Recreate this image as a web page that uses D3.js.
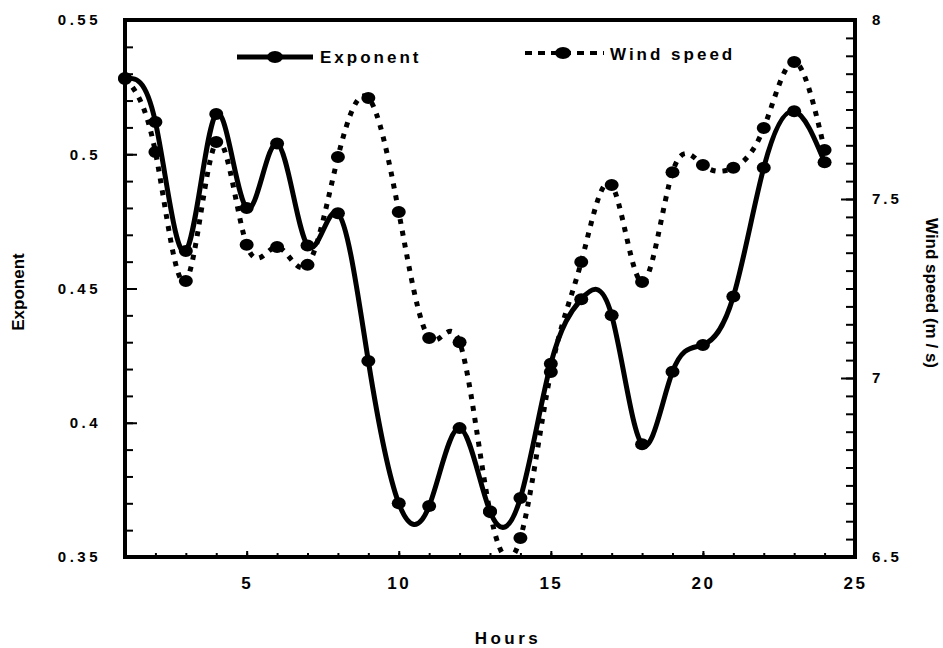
<!DOCTYPE html>
<html lang="en">
<head>
    <meta charset="UTF-8">
    <title>Exponent and wind speed</title>
    <script src="https://d3js.org/d3.v7.min.js"></script>
    <style>
        body {
        margin:0;
        background:#fff;
        }

        svg {
        position:absolute;
        top:0px;
        left:0px;
        }

        text {
        font-family:"Liberation Sans", Arial, sans-serif;
        font-weight:bold;
        fill:#000;
        }
    </style>
</head>
<body>
<svg width="943" height="648"></svg>
<script>
    // values
    var hours = [1, 2, 3, 4, 5, 6, 7, 8, 9, 10, 11, 12, 13, 14, 15, 16, 17, 18, 19, 20, 21, 22, 23, 24];
    var exponent = [0.528, 0.512, 0.464, 0.515, 0.480, 0.504, 0.466, 0.478, 0.423, 0.370, 0.369, 0.398,
                    0.367, 0.372, 0.422, 0.446, 0.440, 0.392, 0.419, 0.429, 0.447, 0.495, 0.516, 0.497];
    var windSpeed = [7.838, 7.631, 7.271, 7.659, 7.372, 7.366, 7.316, 7.617, 7.782, 7.464, 7.112, 7.100,
                     6.626, 6.553, 7.017, 7.324, 7.539, 7.268, 7.575, 7.595, 7.587, 7.698, 7.883, 7.637];

    var xTicks = [5, 10, 15, 20, 25];
    var expTicks = [0.35, 0.4, 0.45, 0.5, 0.55];
    var expLabels = ["0.35", "0.4", "0.45", "0.5", "0.55"];
    var windTicks = [6.5, 7, 7.5, 8];
    var windLabels = ["6.5", "7", "7.5", "8"];

    var svg = d3.select('svg');
    var margin = {top: 20, right: 88, bottom: 91, left: 125};
    var width = 943 - margin.left - margin.right;
    var height = 648 - margin.top - margin.bottom;

    var g = svg.append("g")
        .attr("transform", "translate(" + margin.left + "," + margin.top + ")");

    var x = d3.scaleLinear().domain([1, 25]).range([0, width]);
    var yExp = d3.scaleLinear().domain([0.35, 0.55]).range([height, 0]);
    var yWind = d3.scaleLinear().domain([6.5, 8]).range([height, 0]);

    g.append("clipPath").attr("id", "plot")
        .append("rect").attr("width", width).attr("height", height);

    // minor ticks
    g.append("g").attr("class", "minor")
        .attr("transform", "translate(0," + height + ")")
        .call(d3.axisBottom(x).tickValues(d3.range(2, 25)).tickSize(-4).tickFormat(""));
    g.append("g").attr("class", "minor")
        .call(d3.axisLeft(yExp).tickValues(d3.range(36, 55).map(function(d) { return d / 100; }))
            .tickSize(-8).tickFormat(""));
    g.append("g").attr("class", "minor")
        .attr("transform", "translate(" + width + ",0)")
        .call(d3.axisRight(yWind).tickValues(d3.range(131, 160).map(function(d) { return d / 20; }))
            .tickSize(-9).tickFormat(""));

    // major ticks + labels
    var xAxis = g.append("g").attr("class", "major")
        .attr("transform", "translate(0," + height + ")")
        .call(d3.axisBottom(x).tickValues(xTicks).tickSize(-6).tickPadding(20)
            .tickFormat(function(d) { return d; }));
    var leftAxis = g.append("g").attr("class", "major")
        .call(d3.axisLeft(yExp).tickValues(expTicks).tickSize(-12).tickPadding(24)
            .tickFormat(function(d, i) { return expLabels[i]; }));
    var rightAxis = g.append("g").attr("class", "major")
        .attr("transform", "translate(" + width + ",0)")
        .call(d3.axisRight(yWind).tickValues(windTicks).tickSize(-14).tickPadding(17)
            .tickFormat(function(d, i) { return windLabels[i]; }));

    g.selectAll(".minor .domain, .major .domain").remove();
    g.selectAll(".tick line").attr("stroke", "#000").attr("stroke-width", 2);
    xAxis.selectAll(".tick text")
        .style("font-size", "17px")
        .style("letter-spacing", "2.5px");
    leftAxis.selectAll(".tick text")
        .style("font-size", "15px")
        .style("letter-spacing", "3.5px");
    rightAxis.selectAll(".tick text")
        .style("font-size", "15px")
        .style("letter-spacing", "3px");

    // frame
    g.append("rect")
        .attr("width", width).attr("height", height)
        .attr("fill", "none").attr("stroke", "#000").attr("stroke-width", 4);

    var curve = d3.curveNatural;

    var expLine = d3.line()
        .x(function(d, i) { return x(hours[i]); })
        .y(function(d) { return yExp(d); })
        .curve(curve);
    var windLine = d3.line()
        .x(function(d, i) { return x(hours[i]); })
        .y(function(d) { return yWind(d); })
        .curve(curve);

    g.append("path")
        .datum(windSpeed)
        .attr("clip-path", "url(#plot)")
        .attr("d", windLine)
        .attr("fill", "none")
        .attr("stroke", "#000")
        .attr("stroke-width", 5)
        .attr("stroke-dasharray", "5,7");

    g.append("path")
        .datum(exponent)
        .attr("clip-path", "url(#plot)")
        .attr("d", expLine)
        .attr("fill", "none")
        .attr("stroke", "#000")
        .attr("stroke-width", 5);

    g.append("g").selectAll("ellipse")
        .data(windSpeed)
        .enter()
        .append("ellipse")
        .attr("cx", function(d, i) { return x(hours[i]); })
        .attr("cy", function(d) { return yWind(d); })
        .attr("rx", 7).attr("ry", 6)
        .attr("fill", "#000");

    g.append("g").selectAll("ellipse")
        .data(exponent)
        .enter()
        .append("ellipse")
        .attr("cx", function(d, i) { return x(hours[i]); })
        .attr("cy", function(d) { return yExp(d); })
        .attr("rx", 7).attr("ry", 6)
        .attr("fill", "#000");

    // legend
    var legend = svg.append("g");
    legend.append("line")
        .attr("x1", 237).attr("x2", 313).attr("y1", 57).attr("y2", 57)
        .attr("stroke", "#000").attr("stroke-width", 5);
    legend.append("ellipse")
        .attr("cx", 275).attr("cy", 57).attr("rx", 8).attr("ry", 6).attr("fill", "#000");
    legend.append("text")
        .attr("x", 320).attr("y", 63)
        .style("font-size", "17px").style("letter-spacing", "3px")
        .text("Exponent");

    legend.append("line")
        .attr("x1", 525).attr("x2", 604).attr("y1", 53).attr("y2", 53)
        .attr("stroke", "#000").attr("stroke-width", 4)
        .attr("stroke-dasharray", "7,6");
    legend.append("ellipse")
        .attr("cx", 563).attr("cy", 53).attr("rx", 8).attr("ry", 6).attr("fill", "#000");
    legend.append("text")
        .attr("x", 610).attr("y", 60)
        .style("font-size", "17px").style("letter-spacing", "3px")
        .text("Wind speed");

    // axis titles
    svg.append("text")
        .attr("x", 508).attr("y", 644)
        .attr("text-anchor", "middle")
        .style("font-size", "17px").style("letter-spacing", "3.5px")
        .text("Hours");

    svg.append("text")
        .attr("transform", "translate(24,292) rotate(-90)")
        .attr("text-anchor", "middle")
        .style("font-size", "17px")
        .text("Exponent");

    svg.append("text")
        .attr("transform", "translate(926,293) rotate(90)")
        .attr("text-anchor", "middle")
        .style("font-size", "17px")
        .text("Wind speed (m / s)");
</script>

</body>
</html>
